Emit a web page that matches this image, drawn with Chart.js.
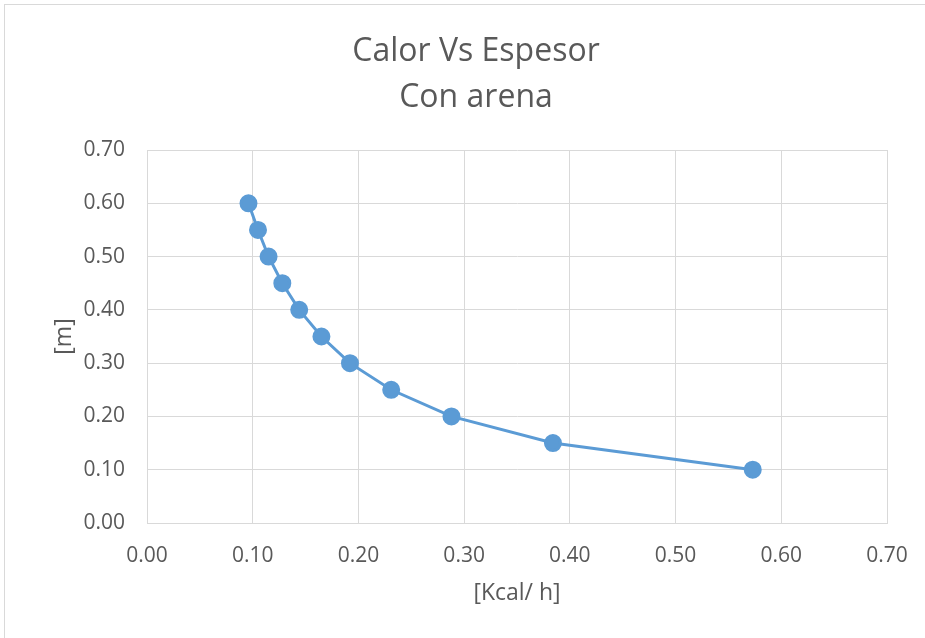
<!DOCTYPE html>
<html>
<head>
<meta charset="utf-8">
<script src="https://cdn.jsdelivr.net/npm/chart.js@4/dist/chart.umd.min.js"></script>
<style>
  body { margin: 0; background: #fff; }
  #frame { position: absolute; left: 4px; top: 4px; width: 1000px; height: 1000px; border: 1px solid #d9d9d9; }
  #wrap { position: absolute; left: 0; top: 0; width: 925px; height: 638px; }
</style>
</head>
<body>
<div id="frame"></div>
<div id="wrap"><canvas id="chart" width="925" height="638"></canvas></div>
<script>
// data
const heatFlow = [0.096, 0.105, 0.115, 0.128, 0.144, 0.165, 0.192, 0.231, 0.288, 0.384, 0.573];
const thickness = [0.60, 0.55, 0.50, 0.45, 0.40, 0.35, 0.30, 0.25, 0.20, 0.15, 0.10];
const titleLines = ['Calor Vs Espesor', 'Con arena'];
const xTitle = '[Kcal/ h]';
const yTitle = '[m]';

const textColor = '#595959';
const gridColor = '#d9d9d9';
const fontFamily = '"Open Sans", sans-serif';

const points = heatFlow.map((x, i) => ({ x: x, y: thickness[i] }));

// Excel centres the title on the whole chart, not on the plot box
const centeredTitle = {
  id: 'centeredTitle',
  afterDraw(c) {
    const g = c.ctx;
    g.save();
    g.fillStyle = textColor;
    g.font = '32px ' + fontFamily;
    g.textAlign = 'center';
    g.textBaseline = 'middle';
    titleLines.forEach((line, i) => g.fillText(line, 476, 52 + i * 46));
    g.restore();
  }
};

const ctx = document.getElementById('chart').getContext('2d');

let chart = new Chart(ctx, {
  type: 'scatter',
  data: {
    datasets: [{
      data: points,
      showLine: true,
      borderColor: '#5b9bd5',
      backgroundColor: '#5b9bd5',
      borderWidth: 3,
      pointRadius: 7.5,
      pointHoverRadius: 7.5
    }]
  },
  options: {
    responsive: false,
    animation: false,
    layout: { padding: { left: 0, right: 38, top: 150, bottom: 31 } },
    plugins: {
      legend: { display: false },
      tooltip: { enabled: false },
      title: { display: false }
    },
    scales: {
      x: {
        type: 'linear',
        min: 0,
        max: 0.7,
        ticks: {
          stepSize: 0.1,
          color: textColor,
          font: { family: fontFamily, size: 21 },
          padding: 20,
          callback: v => v.toFixed(2)
        },
        grid: { color: gridColor, drawTicks: false },
        border: { color: gridColor },
        title: {
          display: true,
          text: xTitle,
          color: textColor,
          font: { family: fontFamily, size: 23 },
          padding: { top: 8, bottom: 0 }
        },
        afterFit: s => { s.height = 84; s.paddingLeft = 0; s.paddingRight = 0; }
      },
      y: {
        min: 0,
        max: 0.7,
        ticks: {
          stepSize: 0.1,
          color: textColor,
          font: { family: fontFamily, size: 21 },
          padding: 22,
          callback: v => v.toFixed(2)
        },
        grid: { color: gridColor, drawTicks: false },
        border: { color: gridColor },
        title: {
          display: true,
          text: yTitle,
          color: textColor,
          font: { family: fontFamily, size: 23 },
          padding: { top: 51, bottom: 0 }
        },
        afterFit: s => { s.width = 147; s.paddingTop = 0; s.paddingBottom = 0; }
      }
    }
  },
  plugins: [centeredTitle]
});
</script>
</body>
</html>
